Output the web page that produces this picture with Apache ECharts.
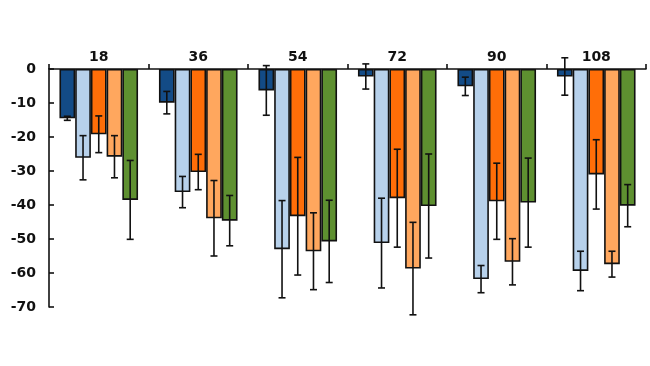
<!DOCTYPE html>
<html>
<head>
<meta charset="utf-8">
<script src="https://cdn.jsdelivr.net/npm/echarts@6/dist/echarts.min.js"></script>
<style>
html,body{margin:0;padding:0;background:#fff;}
#c{width:650px;height:366px;}
</style>
</head>
<body>
<div id="c"></div>
<script>
const categories = ['18', '36', '54', '72', '90', '108'];
const yTicks = [0, -10, -20, -30, -40, -50, -60, -70];

const s1 = [-14.5, -9.9, -6.3, -2.2, -5.1, -2.2];
const s2 = [-26.1, -36.2, -53.0, -51.2, -61.8, -59.4];
const s3 = [-19.2, -30.3, -43.3, -38.0, -38.9, -31.0];
const s4 = [-25.8, -43.9, -53.6, -58.7, -56.7, -57.4];
const s5 = [-38.5, -44.6, -50.7, -40.3, -39.3, -40.2];

const e1 = [0.6, 3.3, 7.3, 3.7, 2.7, 5.5];
const e2 = [6.5, 4.6, 14.3, 13.2, 4.0, 5.8];
const e3 = [5.4, 5.2, 17.3, 14.4, 11.2, 10.2];
const e4 = [6.2, 11.1, 11.3, 13.6, 6.8, 3.8];
const e5 = [11.6, 7.4, 12.1, 15.3, 13.1, 6.2];

const colors = ['#134b86', '#b7d1eb', '#ff6e08', '#ffa75e', '#5e9030'];
const values = [s1, s2, s3, s4, s5];
const errors = [e1, e2, e3, e4, e5];

const GAP = 0.21;
const N = values.length;

const series = [];
values.forEach((vals, i) => {
  series.push({
    type: 'bar',
    data: vals,
    barGap: '0%',
    barCategoryGap: (GAP * 100) + '%',
    itemStyle: { color: colors[i], borderColor: '#111', borderWidth: 1.6 },
    z: 2
  });
});
values.forEach((vals, i) => {
  series.push({
    type: 'custom',
    z: 5,
    data: vals.map((v, k) => [k, v - errors[i][k], v + errors[i][k]]),
    renderItem: function (params, api) {
      const band = api.size([1, 0])[0];
      const bw = band * (1 - GAP) / N;
      const cx = api.coord([api.value(0), 0])[0] + (i - (N - 1) / 2) * bw;
      const yLo = api.coord([api.value(0), api.value(1)])[1];
      const yHi = api.coord([api.value(0), api.value(2)])[1];
      const cap = 3.5;
      const st = { stroke: '#111', lineWidth: 1.6 };
      return {
        type: 'group',
        children: [
          { type: 'line', shape: { x1: cx, y1: yLo, x2: cx, y2: yHi }, style: st },
          { type: 'line', shape: { x1: cx - cap, y1: yLo, x2: cx + cap, y2: yLo }, style: st },
          { type: 'line', shape: { x1: cx - cap, y1: yHi, x2: cx + cap, y2: yHi }, style: st }
        ]
      };
    }
  });
});

const chart = echarts.init(document.getElementById('c'), null, { renderer: 'canvas' });
chart.setOption({
  animation: false,
  backgroundColor: '#fff',
  grid: { left: 49, right: 4, top: 69, bottom: 59, containLabel: false },
  xAxis: {
    type: 'category',
    data: categories,
    position: 'top',
    boundaryGap: true,
    axisLine: { lineStyle: { color: '#111', width: 1.6 } },
    axisTick: { show: true, length: 5, lineStyle: { color: '#111', width: 1.6 } },
    axisLabel: {
      color: '#111', fontSize: 14, fontWeight: 'bold',
      fontFamily: 'DejaVu Sans, sans-serif', margin: 5
    }
  },
  yAxis: {
    type: 'value',
    min: yTicks[yTicks.length - 1],
    max: yTicks[0],
    interval: 10,
    axisLine: { show: true, lineStyle: { color: '#111', width: 1.6 } },
    axisTick: { show: true, inside: true, length: 5, lineStyle: { color: '#111', width: 1.6 } },
    splitLine: { show: false },
    axisLabel: {
      color: '#111', fontSize: 14, fontWeight: 'bold',
      fontFamily: 'DejaVu Sans, sans-serif', margin: 13
    }
  },
  series: series
});
</script>
</body>
</html>
